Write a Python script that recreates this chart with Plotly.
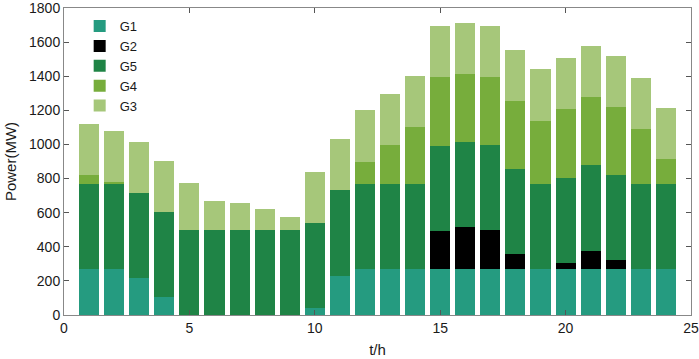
import plotly.graph_objects as go

hours = list(range(1, 25))
G1 = [270, 270, 216, 104, 0, 0, 0, 0, 0, 40, 230, 270, 270, 270, 270, 270, 270, 270, 270, 270, 270, 270, 270, 270]
G2 = [0, 0, 0, 0, 0, 0, 0, 0, 0, 0, 0, 0, 0, 0, 223, 245, 227, 86, 0, 36, 107, 51, 0, 0]
G5 = [500] * 24
G4 = [50, 10, 0, 0, 0, 0, 0, 0, 0, 0, 0, 130, 225, 330, 400, 400, 400, 400, 370, 400, 400, 400, 320, 143]
G3 = [300, 300, 300, 300, 274, 168, 154, 119, 73, 300, 300, 300, 300, 300, 300, 300, 300, 300, 300, 300, 300, 300, 300, 300]

series = [("G1", G1, "#259b80"), ("G2", G2, "#000000"), ("G5", G5, "#1f8446"),
          ("G4", G4, "#77ad3c"), ("G3", G3, "#a6c77a")]

fig = go.Figure()
for name, vals, col in series:
    fig.add_trace(go.Bar(x=hours, y=vals, name=name, marker=dict(color=col, line=dict(width=0))))

axis_common = dict(showgrid=False, zeroline=False, showline=True, linecolor="#888888", linewidth=1,
                   mirror="ticks", ticks="inside", ticklen=5, tickcolor="#555555",
                   automargin=False, ticklabeloverflow="allow",
                   tickfont=dict(family="Liberation Sans, Arial", size=14, color="#1a1a1a"))

fig.update_layout(
    width=699, height=359,
    barmode="stack", bargap=0.2,
    plot_bgcolor="white", paper_bgcolor="white",
    margin=dict(l=64, r=8, t=8, b=44, autoexpand=False),
    font=dict(family="Liberation Sans, Arial", size=14, color="#1a1a1a"),
    xaxis=dict(range=[0, 25], tickvals=[0, 5, 10, 15, 20, 25],
               title=dict(text="t/h", standoff=9, font=dict(size=15)), **axis_common),
    yaxis=dict(range=[0, 1800], tickvals=list(range(0, 1801, 200)),
               title=dict(text="Power(MW)", standoff=8, font=dict(size=15)), **axis_common),
    legend=dict(x=0.025, y=0.99, xanchor="left", yanchor="top", traceorder="normal",
                bgcolor="rgba(255,255,255,0)", font=dict(size=13), itemwidth=30,
                tracegroupgap=0),
    showlegend=True,
)

fig.write_html("out.html", config={"displayModeBar": False},
               post_script="document.body.style.margin='0';")
